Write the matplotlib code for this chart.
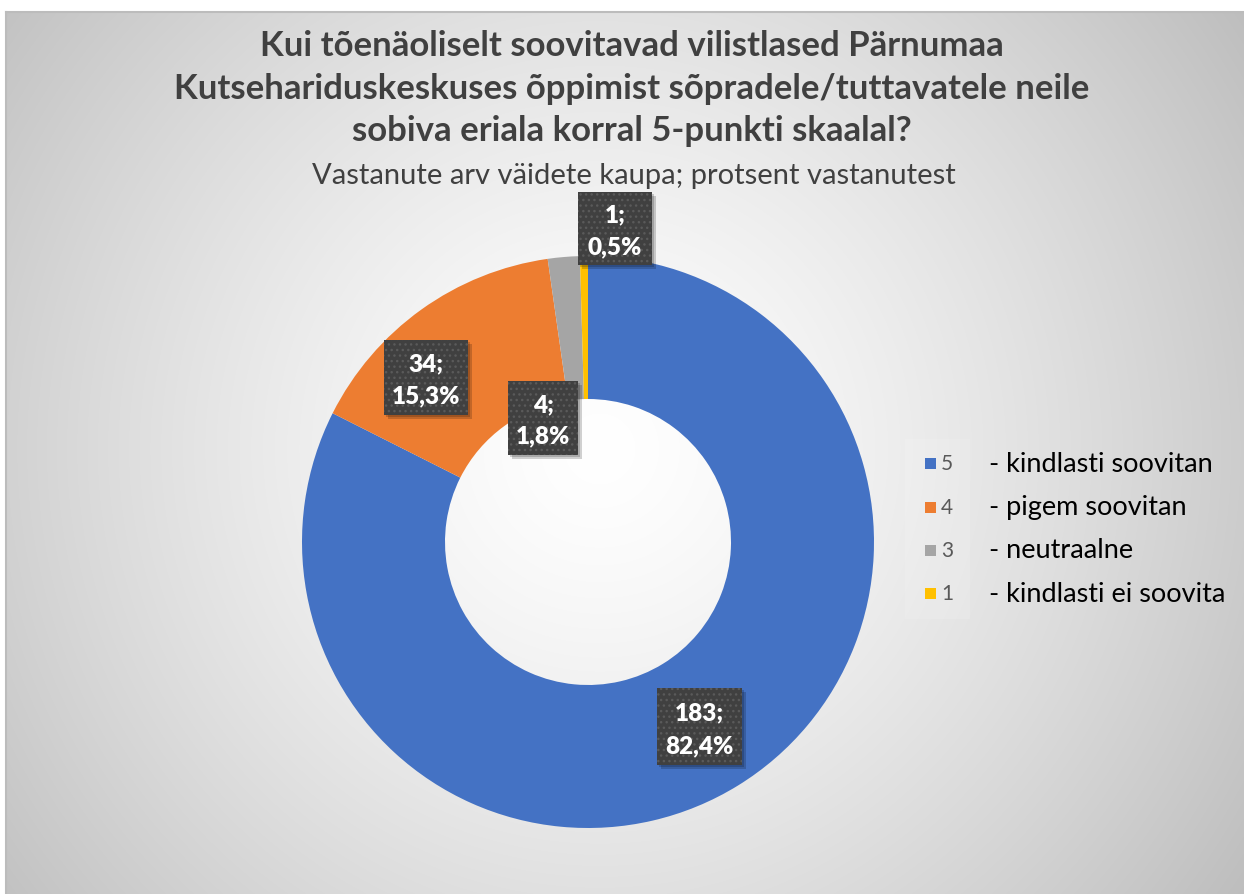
import numpy as np
import matplotlib
matplotlib.use("Agg")
import matplotlib.pyplot as plt
from matplotlib.patches import Rectangle

# ---- data ----
categories = ["5", "4", "3", "1"]
descriptions = ["- kindlasti soovitan", "- pigem soovitan", "- neutraalne", "- kindlasti ei soovita"]
counts = [183, 34, 4, 1]
percents = ["82,4%", "15,3%", "1,8%", "0,5%"]
colors = ["#4472C4", "#ED7D31", "#A5A5A5", "#FFC000"]

title_lines = ["Kui tõenäoliselt soovitavad vilistlased Pärnumaa",
               "Kutsehariduskeskuses õppimist sõpradele/tuttavatele neile",
               "sobiva eriala korral 5-punkti skaalal?"]
subtitle = "Vastanute arv väidete kaupa; protsent vastanutest"

W, H = 1244, 895
plt.rcParams['font.family'] = ['Lato', 'DejaVu Sans']

fig = plt.figure(figsize=(W / 100, H / 100), dpi=100)
fig.patch.set_facecolor("white")
ax = fig.add_axes([0, 0, 1, 1])

def Y(py):
    return H - py

# background radial gradient (chart area)
x0, y0 = 6, 13
xs = np.arange(x0, W) + 0.5
ys = np.arange(y0, H) + 0.5
XX, YY = np.meshgrid(xs, ys)
d = np.sqrt((XX - 600) ** 2 + (YY - 450) ** 2) / 744.0
g = 1 - 0.24 * np.clip(d, 0, 1.1) ** 1.35
img = np.dstack([g, g, g])
ax.imshow(img, extent=(x0, W, Y(H), Y(y0)), origin="upper", zorder=0, aspect="auto")
ax.plot([x0, W], [Y(y0), Y(y0)], color="#bcbcbc", lw=1.5, zorder=1)
ax.plot([x0, x0], [Y(y0), Y(H)], color="#bcbcbc", lw=1.5, zorder=1)

# donut
cx, cy, R = 588, 543, 286
wedges, _ = ax.pie(counts, colors=colors, startangle=90, counterclock=False,
                   center=(cx, Y(cy)), radius=R,
                   wedgeprops=dict(width=R * 0.5, edgecolor="none", linewidth=0))
for w in wedges:
    w.set_zorder(2)

ax.set_xlim(0, W)
ax.set_ylim(0, H)
ax.set_aspect("auto")
ax.axis("off")

# titles
title_y = [46, 89, 131]
for line, ty in zip(title_lines, title_y):
    ax.text(632, Y(ty), line, ha="center", va="center", fontsize=25,
            fontweight="bold", color="#404040", zorder=5)
ax.text(634, Y(176), subtitle, ha="center", va="center", fontsize=21,
        color="#404040", zorder=5)

# data label boxes (pixel boxes: left, top, width, height)
boxes = [(657, 689, 85, 77), (384, 341, 84, 75), (508, 382, 70, 74), (578, 193, 74, 73)]
for (bx, by, bw, bh), c, p in zip(boxes, counts, percents):
    ax.add_patch(Rectangle((bx + 4, Y(by + bh + 4)), bw, bh, facecolor="black",
                           alpha=0.18, edgecolor="none", zorder=6))
    ax.add_patch(Rectangle((bx + 2, Y(by + bh + 2)), bw, bh, facecolor="black",
                           alpha=0.18, edgecolor="none", zorder=6))
    ax.add_patch(Rectangle((bx, Y(by + bh)), bw, bh, facecolor="#404040",
                           edgecolor="#5a5a5a", linewidth=0, hatch="...", zorder=7))
    mx = bx + bw / 2
    ax.text(mx, Y(by + bh * 0.31), f"{c};", ha="center", va="center", fontsize=17.5,
            fontweight="heavy", color="white", zorder=8)
    ax.text(mx, Y(by + bh * 0.74), p, ha="center", va="center", fontsize=17.5,
            fontweight="heavy", color="white", zorder=8)

# legend
ax.add_patch(Rectangle((905, Y(620)), 65, 180, facecolor="white", alpha=0.12,
                       edgecolor="none", zorder=3))
row_y = [464, 508, 551, 594]
for cat, desc, col, ry in zip(categories, descriptions, colors, row_y):
    ax.add_patch(Rectangle((925, Y(ry + 5.5)), 11, 11, facecolor=col,
                           edgecolor="none", zorder=5))
    ax.text(941, Y(ry), cat, ha="left", va="center", fontsize=15,
            color="#595959", zorder=5)
    ax.text(989, Y(ry), desc, ha="left", va="center", fontsize=19.5,
            color="black", zorder=5)

fig.savefig("out.png", dpi=100)
